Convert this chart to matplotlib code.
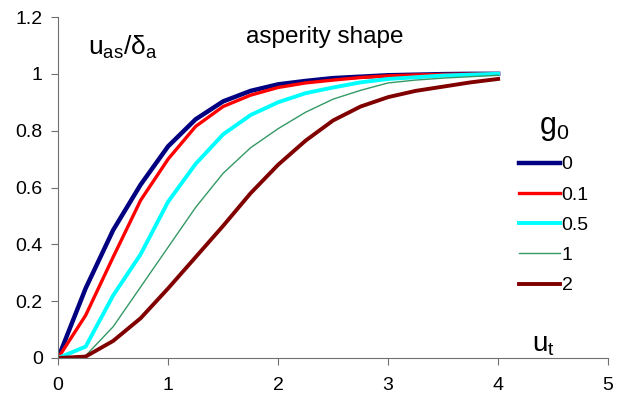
import matplotlib
matplotlib.use("Agg")
import matplotlib.pyplot as plt

plt.rcParams['font.family'] = ['Liberation Sans', 'DejaVu Sans']
plt.rcParams['mathtext.fontset'] = 'custom'
plt.rcParams['mathtext.rm'] = 'Liberation Sans'
plt.rcParams['mathtext.it'] = 'Liberation Sans'

# u_t values and asperity shape for each g0
ut = [0, 0.25, 0.5, 0.75, 1, 1.25, 1.5, 1.75, 2, 2.25, 2.5, 2.75, 3, 3.25, 3.5, 3.75, 4]
g0_0 = [0, 0.245, 0.45, 0.61, 0.745, 0.84, 0.903, 0.94, 0.963, 0.975, 0.985, 0.99, 0.995, 0.997, 0.999, 1.0, 1.0]
g0_01 = [0, 0.15, 0.355, 0.555, 0.70, 0.815, 0.885, 0.925, 0.952, 0.968, 0.978, 0.987, 0.993, 0.996, 0.998, 0.999, 1.0]
g0_05 = [0, 0.04, 0.22, 0.365, 0.55, 0.683, 0.787, 0.855, 0.90, 0.932, 0.952, 0.97, 0.982, 0.988, 0.994, 0.997, 1.0]
g0_1 = [0, 0.008, 0.11, 0.25, 0.39, 0.53, 0.65, 0.74, 0.807, 0.865, 0.911, 0.942, 0.968, 0.978, 0.985, 0.99, 0.995]
g0_2 = [0, 0.005, 0.06, 0.14, 0.245, 0.355, 0.465, 0.58, 0.68, 0.765, 0.836, 0.885, 0.918, 0.94, 0.955, 0.97, 0.982]

labels = ['0', '0.1', '0.5', '1', '2']
series = [g0_0, g0_01, g0_05, g0_1, g0_2]
colors = ['#000080', '#ff0000', '#00ffff', '#339966', '#800000']
widths = [3.2, 2.4, 2.8, 1.0, 2.8]

fig = plt.figure(figsize=(6.25, 4), dpi=100)
ax = fig.add_axes([0.093, 0.105, 0.88, 0.8525])

for y, lab, c, w in zip(series, labels, colors, widths):
    ax.plot(ut, y, color=c, lw=w, label=lab)

ax.set_xlim(0, 5)
ax.set_ylim(0, 1.2)
ax.set_xticks([0, 1, 2, 3, 4, 5])
ax.set_yticks([0, 0.2, 0.4, 0.6, 0.8, 1.0, 1.2])
ax.set_yticklabels(['0', '0.2', '0.4', '0.6', '0.8', '1', '1.2'])
for s in ['top', 'right']:
    ax.spines[s].set_visible(False)
for s in ['left', 'bottom']:
    ax.spines[s].set_color('#707070')
ax.tick_params(colors='#707070', labelcolor='black', labelsize=14, length=5)
ax.tick_params(axis='x', pad=9)
ax.tick_params(axis='y', pad=6)

leg = ax.legend(loc='upper left', bbox_to_anchor=(0.806, 0.775), frameon=False,
                fontsize=14, handlelength=2.1, handletextpad=0.1,
                labelspacing=0.65, title=r'$\mathregular{g_0}$', title_fontsize=22)

ax.text(0.055, 0.889, r'$\mathregular{u_{as}/\delta_a}$', transform=ax.transAxes,
        fontsize=19, va='baseline')
ax.text(0.485, 0.924, 'asperity shape', transform=ax.transAxes, fontsize=17.5,
        ha='center', va='baseline')
ax.text(0.862, 0.018, r'$\mathregular{u_t}$', transform=ax.transAxes,
        fontsize=20, va='baseline')

fig.savefig('out.png', dpi=100)
